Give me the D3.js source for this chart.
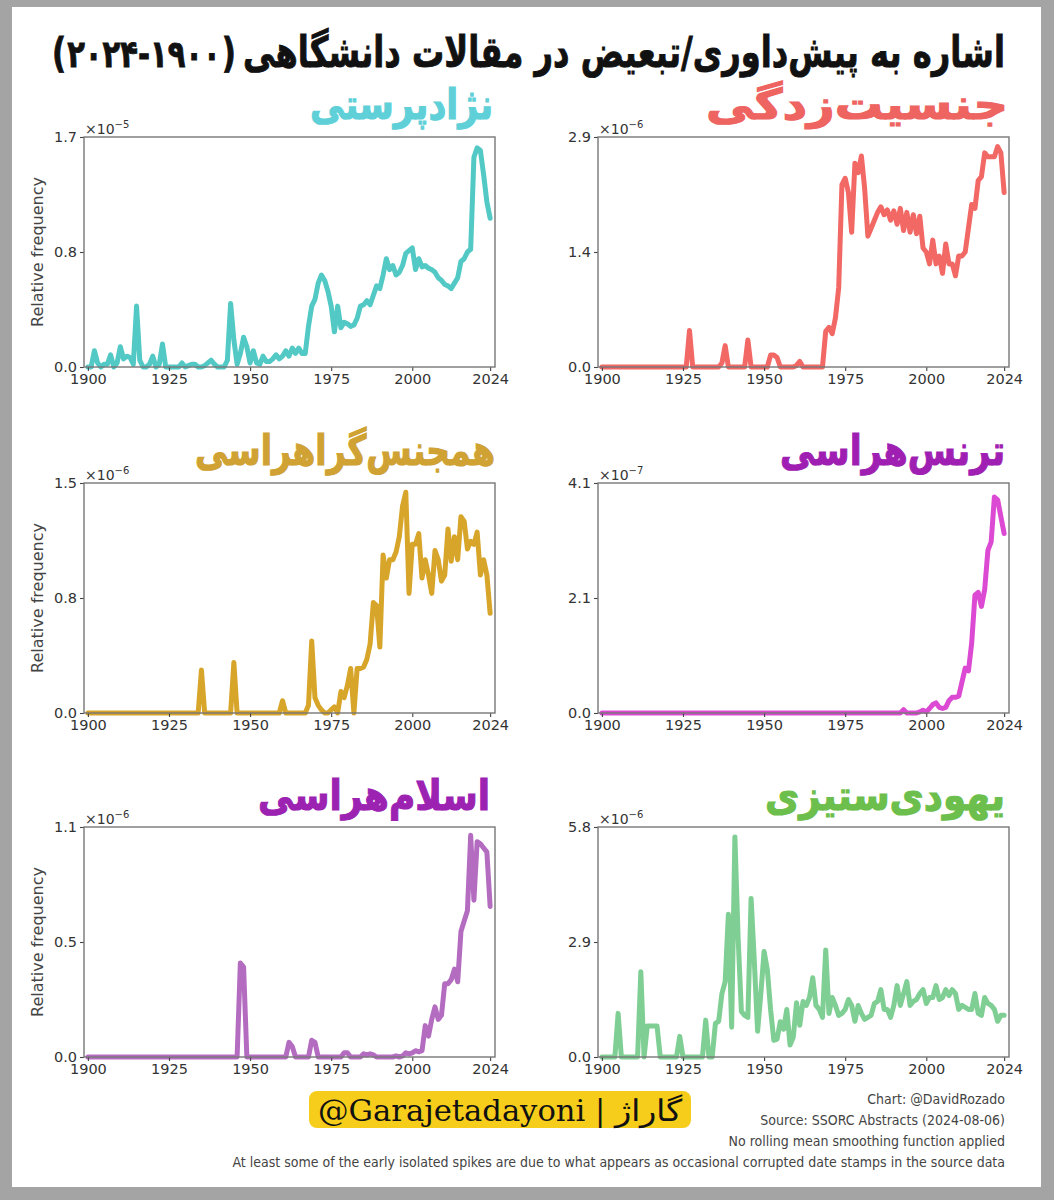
<!DOCTYPE html>
<meta charset="utf-8">
<script src="https://d3js.org/d3.v7.min.js"></script>
<style>
  body { margin: 0; background: #a4a4a4; }
</style>
<svg id="chart" width="1054" height="1200"></svg>
<script>

// one value per year, 1900 .. 2024
const years = d3.range(1900, 2025);

// racism, x1e-5
const racism = [
  0.00,0.00,0.12,0.03,0.00,0.02,0.02,0.09,0.00,0.03,
  0.15,0.06,0.08,0.07,0.02,0.45,0.05,0.00,0.00,0.02,
  0.08,0.00,0.02,0.17,0.00,0.00,0.00,0.00,0.00,0.03,
  0.00,0.01,0.02,0.02,0.00,0.00,0.01,0.03,0.05,0.02,
  0.00,0.00,0.00,0.05,0.47,0.20,0.02,0.10,0.22,0.15,
  0.03,0.12,0.03,0.02,0.08,0.04,0.04,0.06,0.09,0.06,
  0.08,0.12,0.08,0.14,0.10,0.14,0.10,0.10,0.30,0.45,
  0.50,0.62,0.68,0.64,0.56,0.45,0.26,0.45,0.29,0.33,
  0.32,0.30,0.31,0.36,0.45,0.46,0.49,0.46,0.53,0.60,
  0.58,0.68,0.80,0.72,0.75,0.68,0.70,0.75,0.84,0.86,
  0.88,0.72,0.80,0.74,0.75,0.73,0.72,0.70,0.66,0.64,
  0.61,0.60,0.58,0.62,0.66,0.78,0.80,0.85,0.87,1.55,
  1.62,1.60,1.42,1.22,1.10
];

// sexism, x1e-6
const sexism = [
  0,0,0,0,0,0,0,0,0,0,
  0,0,0,0,0,0,0,0,0,0,
  0,0,0,0,0,0,0,0.46,0,0,
  0,0,0,0,0,0,0,0.05,0.27,0,
  0,0,0,0,0,0.34,0,0,0,0,
  0,0,0.15,0.15,0.12,0,0,0,0,0,
  0.02,0.07,0,0,0,0,0,0,0,0.45,
  0.50,0.42,0.62,1.00,2.30,2.38,2.20,1.70,2.57,2.45,
  2.66,2.25,1.65,1.75,1.85,1.95,2.02,1.92,1.98,1.85,
  1.97,1.80,2.00,1.72,1.95,1.70,1.92,1.68,1.90,1.50,
  1.45,1.30,1.60,1.30,1.40,1.18,1.55,1.30,1.30,1.15,
  1.40,1.40,1.45,1.75,2.05,2.00,2.35,2.40,2.70,2.65,
  2.65,2.65,2.78,2.70,2.20
];

// homophobia, x1e-6
const homophobia = [
  0,0,0,0,0,0,0,0,0,0,
  0,0,0,0,0,0,0,0,0,0,
  0,0,0,0,0,0,0,0,0,0,
  0,0,0,0,0,0.28,0,0,0,0,
  0,0,0,0,0,0.33,0,0,0,0,
  0,0,0,0,0,0,0,0,0,0,
  0.08,0,0,0,0,0,0,0,0.05,0.47,
  0.10,0.05,0.02,0,0,0.02,0.04,0,0.14,0.10,
  0.18,0.29,0,0.29,0.29,0.30,0.35,0.45,0.72,0.70,
  0.43,1.03,0.88,1.00,1.00,1.05,1.15,1.35,1.44,0.78,
  1.10,1.10,1.17,0.88,1.00,0.90,0.78,1.06,1.00,0.86,
  0.90,1.20,0.99,1.15,1.00,1.28,1.25,1.07,1.12,1.10,
  1.18,0.90,1.00,0.90,0.65
];

// transphobia, x1e-7
const transphobia = [
  0,0,0,0,0,0,0,0,0,0,
  0,0,0,0,0,0,0,0,0,0,
  0,0,0,0,0,0,0,0,0,0,
  0,0,0,0,0,0,0,0,0,0,
  0,0,0,0,0,0,0,0,0,0,
  0,0,0,0,0,0,0,0,0,0,
  0,0,0,0,0,0,0,0,0,0,
  0,0,0,0,0,0,0,0,0,0,
  0,0,0,0,0,0,0,0,0,0,
  0,0,0,0.06,0,0,0,0,0.02,0.05,
  0.02,0.08,0.15,0.18,0.10,0.08,0.10,0.22,0.28,0.28,
  0.30,0.55,0.80,0.75,1.25,2.10,2.15,1.90,2.20,2.90,
  3.05,3.85,3.80,3.50,3.20
];

// islamophobia, x1e-6
const islamophobia = [
  0,0,0,0,0,0,0,0,0,0,
  0,0,0,0,0,0,0,0,0,0,
  0,0,0,0,0,0,0,0,0,0,
  0,0,0,0,0,0,0,0,0,0,
  0,0,0,0,0,0,0,0.45,0.43,0,
  0,0,0,0,0,0,0,0,0,0,
  0,0,0.07,0.05,0,0,0,0,0,0.08,
  0.07,0,0,0,0,0,0,0,0,0.02,
  0.02,0,0,0,0,0.015,0.01,0.015,0.01,0,
  0,0,0,0,0,0.005,0,0.005,0.02,0.015,
  0.02,0.03,0.025,0.03,0.15,0.10,0.18,0.24,0.18,0.20,
  0.35,0.35,0.37,0.42,0.36,0.60,0.65,0.70,1.06,0.75,
  1.03,1.02,1.00,0.98,0.72
];

// antisemitism, x1e-6
const antisemitism = [
  0,0,0,0,0,1.10,0,0,0,0,
  0,0,2.15,0,0.78,0.78,0.78,0.78,0,0,
  0,0,0,0,0.52,0,0,0,0,0,
  0,0,0.93,0,0,0.85,0.90,1.60,1.90,3.60,
  0.75,5.55,3.00,1.15,1.05,1.00,4.00,2.40,0.65,1.60,
  2.66,2.20,1.20,0.42,0.45,0.89,0.70,1.20,0.30,0.50,
  1.37,0.80,1.40,1.30,1.50,2.00,1.30,1.20,1.00,2.70,
  1.10,1.50,1.30,1.05,1.10,1.20,1.45,1.30,0.90,1.30,
  1.10,0.95,1.00,1.05,1.35,1.40,1.70,1.20,1.20,1.00,
  1.30,1.80,1.30,1.60,1.90,1.30,1.40,1.45,1.60,1.70,
  1.35,1.50,1.50,1.80,1.45,1.50,1.70,1.55,1.70,1.60,
  1.20,1.30,1.25,1.20,1.20,1.60,1.10,1.05,1.50,1.35,
  1.30,1.20,0.90,1.05,1.05
];

const series = [racism, sexism, homophobia, transphobia, islamophobia, antisemitism];
const titles = ["نژادپرستی", "جنسیت‌زدگی", "همجنس‌گراهراسی", "ترنس‌هراسی", "اسلام‌هراسی", "یهودی‌ستیزی"];
const titleColors = ["#5fd0d8", "#ee6461", "#cfa233", "#a01fb3", "#9c22b2", "#6cbf4c"];
const lineColors = ["#52c9c5", "#f16865", "#d8a52b", "#dc4ad3", "#b46cc1", "#7fce93"];
const yMax = [1.7, 2.9, 1.5, 4.1, 1.1, 5.8];
const yTickLabels = [
  ["0.0", "0.8", "1.7"],
  ["0.0", "1.4", "2.9"],
  ["0.0", "0.8", "1.5"],
  ["0.0", "2.1", "4.1"],
  ["0.0", "0.5", "1.1"],
  ["0.0", "2.9", "5.8"]
];
const exponents = ["−5", "−6", "−6", "−7", "−6", "−6"];
const xTicks = [1900, 1925, 1950, 1975, 2000, 2024];

const mainTitle = "اشاره به پیش‌داوری/تبعیض در مقالات دانشگاهی";
const titleYears = "۲۰۲۴-۱۹۰۰";
const notes = [
  "Chart: @DavidRozado",
  "Source: SSORC Abstracts (2024-08-06)",
  "No rolling mean smoothing function applied",
  "At least some of the early isolated spikes are due to what appears as occasional corrupted date stamps in the source data"
];
const badge = "@Garajetadayoni | گاراژ";

const svg = d3.select("#chart");
const fa = "DejaVu Sans";

// grey frame and white sheet
svg.append("rect").attr("width", 1054).attr("height", 1200).attr("fill", "#a4a4a4");
svg.append("rect").attr("x", 12).attr("y", 7).attr("width", 1029).attr("height", 1180).attr("fill", "#fff");

// main title, drawn a bit narrower and stretched tall like the heavy original face
const head = svg.append("g").attr("transform", "translate(0,67) scale(1,1.3)");
const titleStyle = sel => sel
    .style("font-family", fa).style("font-weight", "bold")
    .attr("fill", "#111").attr("stroke", "#111").attr("stroke-width", 0.7);

head.append("text")
    .attr("x", 1005)
    .attr("text-anchor", "end")
    .attr("textLength", 762)
    .attr("lengthAdjust", "spacingAndGlyphs")
    .style("font-size", "33px")
    .call(titleStyle)
    .text(mainTitle);

// brackets and digits as separate pieces so the bidi pass can't flip them
let cx = 52;
const openB = head.append("text").attr("x", cx).style("font-size", "31px").call(titleStyle).text("(");
cx += openB.node().getComputedTextLength() + 1;
const digits = head.append("text").attr("x", cx).style("font-size", "29px").call(titleStyle)
    .style("direction", "ltr").text(titleYears);
cx += digits.node().getComputedTextLength() + 1;
head.append("text").attr("x", cx).style("font-size", "31px").call(titleStyle).text(")");

const colLeft = [84, 598];
const rowTop = [137, 483, 827];
const boxW = 411, boxH = 230;
const titleWidth = [183, 302, 300, 225, 232, 240];
const titleRight = [493, 1008, 495, 1005, 490, 1005];
const titleBase = [119, 119, 465, 465, 810, 810];

series.forEach((vals, i) => {
  const left = colLeft[i % 2];
  const top = rowTop[Math.floor(i / 2)];

  const x = d3.scaleLinear().domain([1898.8, 2025.5]).range([left, left + boxW]);
  const y = d3.scaleLinear().domain([0, yMax[i]]).range([top + boxH, top]);

  const g = svg.append("g");

  // panel title
  g.append("text")
      .attr("x", titleRight[i])
      .attr("y", titleBase[i])
      .attr("text-anchor", "end")
      .attr("textLength", titleWidth[i])
      .attr("lengthAdjust", "spacingAndGlyphs")
      .style("font-family", fa)
      .style("font-weight", "bold")
      .style("font-size", "42px")
      .attr("fill", titleColors[i])
      .attr("stroke", titleColors[i])
      .attr("stroke-width", 1.2)
      .text(titles[i]);

  // line
  const line = d3.line()
      .x((d, k) => x(years[k]))
      .y(d => y(d));

  g.append("path")
      .datum(vals)
      .attr("d", line)
      .attr("fill", "none")
      .attr("stroke", lineColors[i])
      .attr("stroke-width", 5)
      .attr("stroke-linejoin", "round")
      .attr("stroke-linecap", "round");

  // axes
  const xAxis = d3.axisBottom(x).tickValues(xTicks).tickFormat(d3.format("d")).tickSize(4).tickPadding(3);
  const yAxis = d3.axisLeft(y).tickValues([0, yMax[i] / 2, yMax[i]])
      .tickFormat((d, k) => yTickLabels[i][k]).tickSize(4).tickPadding(3);

  const gx = g.append("g").attr("transform", `translate(0,${top + boxH})`).call(xAxis);
  const gy = g.append("g").attr("transform", `translate(${left},0)`).call(yAxis);
  [gx, gy].forEach(a => {
    a.select(".domain").remove();
    a.selectAll("line").attr("stroke", "#444").attr("stroke-width", 1.1);
    a.selectAll("text")
        .style("font-family", fa)
        .style("font-size", "14.5px")
        .attr("fill", "#333");
  });

  // frame
  g.append("rect")
      .attr("x", left).attr("y", top)
      .attr("width", boxW).attr("height", boxH)
      .attr("fill", "none")
      .attr("stroke", "#777")
      .attr("stroke-width", 1.4);

  // offset text
  const ex = g.append("text")
      .attr("x", left + 1).attr("y", top - 3)
      .style("font-family", fa)
      .style("font-size", "14px")
      .attr("fill", "#333");
  ex.append("tspan").text("×10");
  ex.append("tspan").attr("dy", -6).style("font-size", "10px").text(exponents[i]);

  if (i % 2 === 0) {
    g.append("text")
        .attr("transform", `translate(${left - 41},${top + boxH / 2}) rotate(-90)`)
        .attr("text-anchor", "middle")
        .style("font-family", fa)
        .style("font-size", "16px")
        .attr("fill", "#444")
        .text("Relative frequency");
  }
});

// footer badge
svg.append("rect")
    .attr("x", 309).attr("y", 1091).attr("width", 382).attr("height", 37)
    .attr("rx", 8).attr("fill", "#f7cd1b");
svg.append("text")
    .attr("x", 500).attr("y", 1121)
    .attr("text-anchor", "middle")
    .attr("textLength", 364)
    .attr("lengthAdjust", "spacingAndGlyphs")
    .style("font-family", "DejaVu Serif Condensed, DejaVu Serif")
    .style("font-size", "30px")
    .attr("fill", "#111")
    .text(badge);

svg.append("g").selectAll("text")
  .data(notes)
  .join("text")
    .attr("x", 1005)
    .attr("y", (d, k) => 1104 + k * 21)
    .attr("text-anchor", "end")
    .style("font-family", "DejaVu Sans Condensed, DejaVu Sans")
    .style("font-stretch", "condensed")
    .style("font-size", "14px")
    .attr("fill", "#444")
    .text(d => d);

</script>
